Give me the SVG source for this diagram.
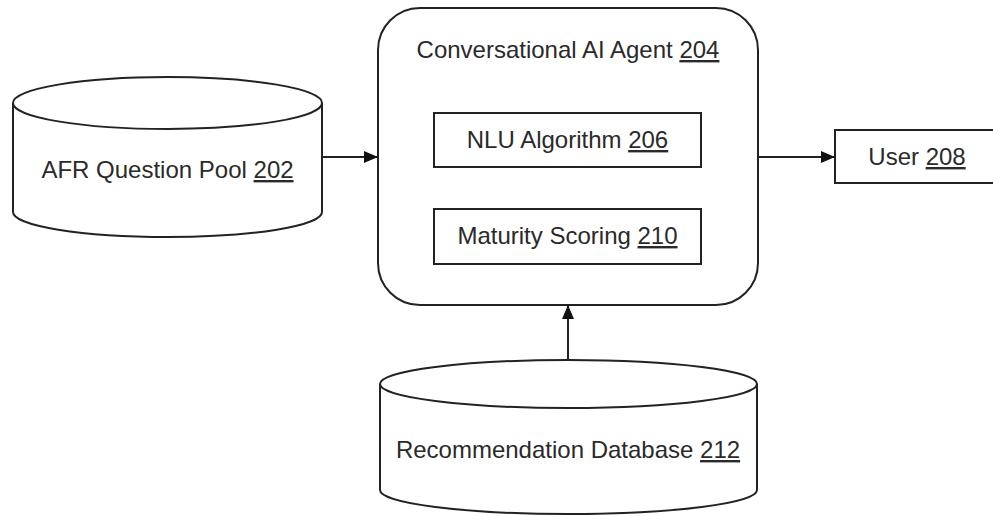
<svg xmlns="http://www.w3.org/2000/svg" width="993" height="516" viewBox="0 0 993 516">
<style>
.s{fill:#fff;stroke:#222;stroke-width:2}
.t{font-family:"Liberation Sans",Arial,sans-serif;font-size:24px;fill:#2a2a2a;text-anchor:middle}
.u{text-decoration:underline}
.c{stroke:#222;stroke-width:2;fill:none}
</style>
<defs>
<marker id="ah" markerWidth="14" markerHeight="12" refX="14" refY="6" orient="auto" markerUnits="userSpaceOnUse" viewBox="0 0 14 12">
<path d="M0,0 L14,6 L0,12 z" fill="#111"/>
</marker>
</defs>
<rect width="993" height="516" fill="#fff"/>
<g id="afr-pool">
<path class="s" d="M13,103 L13,212 A154.5,25 0 0 0 322,212 L322,103"/>
<ellipse class="s" cx="167.5" cy="103" rx="154.5" ry="26"/>
<text class="t" x="167.5" y="178">AFR Question Pool <tspan class="u">202</tspan></text>
</g>
<g id="agent">
<rect class="s" x="378" y="8" width="380" height="297" rx="42" ry="42"/>
<text class="t" x="568" y="58">Conversational AI Agent <tspan class="u">204</tspan></text>
</g>
<g id="nlu">
<rect class="s" x="434" y="113" width="267" height="54"/>
<text class="t" x="567.5" y="148">NLU Algorithm <tspan class="u">206</tspan></text>
</g>
<g id="maturity">
<rect class="s" x="434" y="209" width="267" height="55"/>
<text class="t" x="567.5" y="244">Maturity Scoring <tspan class="u">210</tspan></text>
</g>
<g id="user">
<rect class="s" x="835" y="130" width="165" height="53"/>
<text class="t" x="917" y="165">User <tspan class="u">208</tspan></text>
</g>
<g id="rec-db">
<path class="s" d="M380,384 L380,490 A188.5,24 0 0 0 757,490 L757,384"/>
<ellipse class="s" cx="568.5" cy="384" rx="188.5" ry="24"/>
<text class="t" x="568" y="458">Recommendation Database <tspan class="u">212</tspan></text>
</g>
<g id="connectors">
<line class="c" x1="322" y1="157" x2="378" y2="157" marker-end="url(#ah)"/>
<line class="c" x1="758" y1="157" x2="835" y2="157" marker-end="url(#ah)"/>
<line class="c" x1="568" y1="360" x2="568" y2="305" marker-end="url(#ah)"/>
</g>
</svg>
